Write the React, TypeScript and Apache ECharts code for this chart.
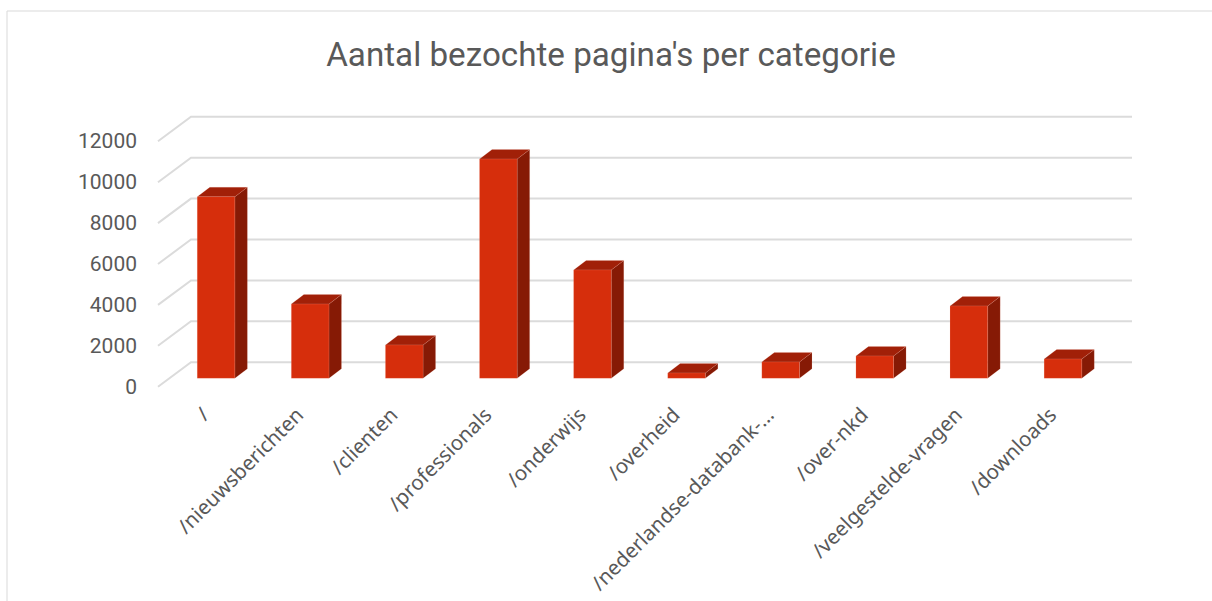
import React, { useEffect, useRef } from "react";
import * as echarts from "echarts";

const titleText = "Aantal bezochte pagina's per categorie";
const categories = [
  "/",
  "/nieuwsberichten",
  "/clienten",
  "/professionals",
  "/onderwijs",
  "/overheid",
  "/nederlandse-databank-…",
  "/over-nkd",
  "/veelgestelde-vragen",
  "/downloads",
];
const pageCounts = [8880, 3630, 1630, 10720, 5300, 260, 800, 1090, 3535, 940];
const yTicks = [0, 2000, 4000, 6000, 8000, 10000, 12000];

const FONT = "Roboto";
const LABEL_FONT = "Noto Sans";
const WALL_DX = 33;
const WALL_DY = 24.5;
const BAR_DX = 11;
const BAR_DY = 8.4;
const DEPTH_DX = 12.5;
const DEPTH_DY = 9.5;
const BAR_RATIO = 0.4;
const EDGE = "rgba(255,190,170,0.18)";

const renderGridLine = (params: any, api: any) => {
  const y = api.coord([0, api.value(1)])[1];
  const left = params.coordSys.x;
  const right = left + params.coordSys.width;
  return {
    type: "polyline",
    shape: {
      points: [
        [left, y],
        [left + WALL_DX, y - WALL_DY],
        [right + WALL_DX, y - WALL_DY],
      ],
    },
    style: { fill: "none", stroke: "#DBDBDB", lineWidth: 2 },
  };
};

const renderBar = (_params: any, api: any) => {
  const top = api.coord([api.value(0), api.value(1)]);
  const base = api.coord([api.value(0), 0]);
  const w = api.size([1, 0])[0] * BAR_RATIO;
  const x0 = top[0] - w / 2 + BAR_DX;
  const x1 = x0 + w;
  const yT = top[1] - BAR_DY;
  const yB = base[1] - BAR_DY;
  return {
    type: "group",
    children: [
      {
        type: "polygon",
        shape: {
          points: [
            [x1, yT],
            [x1 + DEPTH_DX, yT - DEPTH_DY],
            [x1 + DEPTH_DX, yB - DEPTH_DY],
            [x1, yB],
          ],
        },
        style: { fill: "#861A05", stroke: EDGE, lineWidth: 0.75 },
      },
      {
        type: "polygon",
        shape: {
          points: [
            [x0, yT],
            [x0 + DEPTH_DX, yT - DEPTH_DY],
            [x1 + DEPTH_DX, yT - DEPTH_DY],
            [x1, yT],
          ],
        },
        style: { fill: "#A12008", stroke: EDGE, lineWidth: 0.75 },
      },
      {
        type: "rect",
        shape: { x: x0, y: yT, width: w, height: yB - yT },
        style: { fill: "#D62E0C", stroke: EDGE, lineWidth: 0.75 },
      },
    ],
  };
};

export default function App() {
  const ref = useRef<HTMLDivElement>(null);
  useEffect(() => {
    document.body.style.margin = "0";
    const chart = echarts.init(ref.current!, undefined, { renderer: "svg" });
    chart.setOption({
      animation: false,
      backgroundColor: "#FFFFFF",
      title: {
        text: titleText,
        left: 606,
        top: 33,
        textAlign: "center",
        textStyle: { fontFamily: FONT, fontSize: 33.2, fontWeight: 400, color: "#595959" },
      },
      grid: { left: 158, top: 141.3, width: 941, height: 245.4 },
      xAxis: {
        type: "category",
        data: categories,
        axisLine: { show: false },
        axisTick: { show: false },
        axisLabel: {
          interval: 0,
          rotate: 45,
          margin: 24,
          fontFamily: LABEL_FONT,
          fontSize: 20.5,
          color: "#595959",
        },
      },
      yAxis: {
        type: "value",
        min: 0,
        max: 12000,
        interval: 2000,
        axisLine: { show: false },
        axisTick: { show: false },
        splitLine: { show: false },
        axisLabel: {
          margin: 21,
          fontFamily: FONT,
          fontSize: 21,
          color: "#595959",
          formatter: (v: number) => String(v),
        },
      },
      graphic: [
        {
          type: "polyline",
          silent: true,
          shape: { points: [[7, 601], [7, 11], [1212, 11]] },
          style: { fill: "none", stroke: "#D9D9D9", lineWidth: 1 },
        },
      ],
      series: [
        {
          type: "custom",
          renderItem: renderGridLine,
          data: yTicks.map((v) => [0, v]),
          encode: { x: 0, y: 1 },
          z: 1,
          silent: true,
        },
        {
          type: "custom",
          renderItem: renderBar,
          data: pageCounts.map((v, i) => [i, v]),
          encode: { x: 0, y: 1 },
          z: 2,
          silent: true,
        },
      ],
    });
    return () => chart.dispose();
  }, []);
  return <div ref={ref} style={{ position: "absolute", left: 0, top: 0, width: 1212, height: 601 }} />;
}
